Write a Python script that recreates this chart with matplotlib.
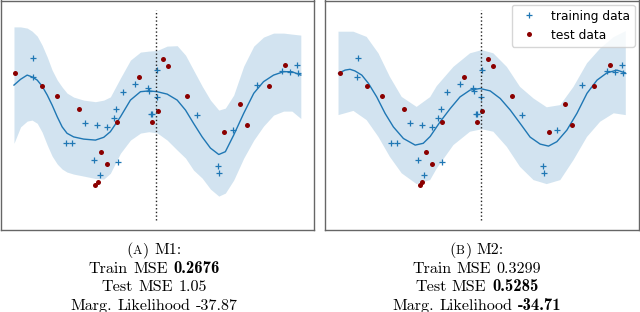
import numpy as np
import matplotlib
matplotlib.use("Agg")
import matplotlib.pyplot as plt

# ---------------- data ----------------
x_train = [0.67, 0.66, 2.49, 2.90, 3.25, 1.82, 2.03, 2.78, 2.99, 3.62, 3.48, 3.57,
           3.79, 4.23, 4.68, 4.72, 4.77, 4.82, 4.99, 4.97, 6.37, 7.62, 7.13, 7.14,
           8.46, 9.34, 9.61, 9.87, 9.89]
y_train = [1.54, 1.08, -0.08, -0.125, -0.18, -0.58, -0.58, -1.0, -1.37, -1.04, 0.05, 0.27,
           0.70, 0.89, 0.79, 0.725, 0.15, 0.15, 1.24, 0.58, 0.13, -0.25, -1.14, -1.33,
           0.875, 1.23, 1.19, 1.375, 1.17]

x_test = [0.05, 0.99, 1.51, 2.27, 3.05, 3.25, 2.92, 2.84, 3.60, 4.36, 5.20, 5.38,
          5.01, 4.82, 6.03, 7.33, 7.89, 8.14, 8.90, 9.44]
y_test = [1.17, 0.85, 0.61, 0.27, -0.80, -1.10, -1.54, -1.625, -0.05, 1.075, 1.525, 1.35,
          0.23, -0.06, 0.61, -0.29, 0.39, -0.13, 0.86, 1.38]

split_x = 4.96
split_y = [-2.5, 2.75]

# Model M1: posterior mean and +/- band
m1_x = [0.0, 0.23, 0.46, 0.63, 0.81, 0.98, 1.16, 1.33, 1.51, 1.68, 1.85, 2.08, 2.43,
        2.84, 3.13, 3.36, 3.71, 4.06, 4.41, 4.70, 4.99, 5.34, 5.69, 5.98, 6.26, 6.56,
        6.85, 7.14, 7.37, 7.66, 8.01, 8.36, 8.70, 9.05, 9.40, 9.69, 10.0]
m1_mean = [0.875, 1.02, 1.125, 1.08, 1.0, 0.85, 0.625, 0.375, 0.08, -0.17, -0.33, -0.42,
           -0.475, -0.5, -0.43, -0.29, 0.08, 0.5, 0.71, 0.73, 0.71, 0.65, 0.5, 0.25,
           -0.08, -0.42, -0.70, -0.86, -0.79, -0.375, 0.17, 0.67, 0.96, 1.125, 1.21,
           1.21, 1.125]
m1_upper = [2.33, 2.33, 2.3, 2.225, 2.1, 1.875, 1.575, 1.25, 1.0, 0.825, 0.675, 0.575,
            0.5, 0.46, 0.5, 0.58, 1.05, 1.5, 1.7, 1.725, 1.74, 1.85, 1.86, 1.625, 1.25,
            0.85, 0.5, 0.25, 0.3, 0.625, 1.35, 1.85, 2.075, 2.175, 2.175, 2.15, 2.125]
m1_lower = [-0.58, -0.17, -0.025, 0.0, -0.08, -0.3, -0.625, -0.9, -1.1, -1.225, -1.3,
            -1.35, -1.4, -1.46, -1.475, -1.33, -0.83, -0.5, -0.325, -0.29, -0.32, -0.5,
            -0.75, -0.95, -1.25, -1.45, -1.725, -1.9, -1.825, -1.5, -0.95, -0.5, -0.15,
            0.125, 0.225, 0.225, 0.04]

# Model M2: posterior mean and +/- band
m2_x = [0.0, 0.23, 0.40, 0.57, 0.81, 1.04, 1.33, 1.62, 1.91, 2.26, 2.67, 2.95, 3.19,
        3.54, 3.89, 4.23, 4.58, 4.93, 5.28, 5.63, 5.98, 6.32, 6.67, 7.02, 7.31, 7.60,
        7.95, 8.30, 8.65, 9.00, 9.34, 9.69, 9.98]
m2_mean = [1.17, 1.25, 1.27, 1.23, 1.125, 0.92, 0.58, 0.17, -0.17, -0.46, -0.625, -0.58,
           -0.41, -0.04, 0.29, 0.58, 0.75, 0.79, 0.73, 0.54, 0.25, -0.08, -0.425, -0.6,
           -0.65, -0.54, -0.25, 0.17, 0.67, 1.0, 1.18, 1.25, 1.18]
m2_band_x = [0.0, 0.52, 0.98, 1.39, 1.79, 2.20, 2.72, 3.19, 3.42, 4.0, 4.58, 4.99, 5.39,
             5.86, 6.32, 6.79, 7.25, 7.72, 8.18, 8.65, 9.11, 9.58, 10.0]
m2_upper = [2.21, 2.21, 2.08, 1.67, 1.08, 0.58, 0.33, 0.575, 0.85, 1.33, 1.67, 1.75, 1.67,
            1.33, 0.83, 0.54, 0.32, 0.375, 0.83, 1.42, 1.79, 2.075, 2.225]
m2_lower = [0.125, 0.23, 0.0, -0.42, -0.92, -1.33, -1.6, -1.5, -1.21, -0.625, -0.29, -0.23,
            -0.29, -0.67, -1.17, -1.5, -1.6, -1.5, -1.0, -0.42, -0.04, 0.17, 0.125]

captions = [
    [[("(", "r"), ("A", "sc"), (")", "r"), (" ", None), ("M1:", "r")],
     [("Train", "r"), (" ", None), ("MSE", "r"), (" ", None), ("0.2676", "b")],
     [("Test", "r"), (" ", None), ("MSE", "r"), (" ", None), ("1.05", "r")],
     [("Marg.", "r"), (" ", None), ("Likelihood", "r"), (" ", None), ("-37.87", "r")]],
    [[("(", "r"), ("B", "sc"), (")", "r"), (" ", None), ("M2:", "r")],
     [("Train", "r"), (" ", None), ("MSE", "r"), (" ", None), ("0.3299", "r")],
     [("Test", "r"), (" ", None), ("MSE", "r"), (" ", None), ("0.5285", "b")],
     [("Marg.", "r"), (" ", None), ("Likelihood", "r"), (" ", None), ("-34.71", "b")]],
]

# ---------------- figure ----------------
W, H = 640, 312
fig = plt.figure(figsize=(W / 100, H / 100), dpi=100)


def px_axes(x0, y0, x1, y1):
    return fig.add_axes([x0 / W, 1 - y1 / H, (x1 - x0) / W, (y1 - y0) / H])


ax1 = px_axes(0.5, 0.5, 314, 229.7)
ax2 = px_axes(325, 0.5, 639, 229.7)

blue = "#1f77b4"
red = "#8b0000"

ax1.fill_between(m1_x, m1_lower, m1_upper, color=blue, alpha=0.2, lw=0)
ax1.plot(m1_x, m1_mean, color=blue, lw=1.0)
ax2.fill(np.r_[m2_band_x, m2_band_x[::-1]], np.r_[m2_upper, m2_lower[::-1]],
         color=blue, alpha=0.2, lw=0)
ax2.plot(m2_x, m2_mean, color=blue, lw=1.0)

for ax in (ax1, ax2):
    ax.plot(x_train, y_train, "+", color=blue, ms=4.8, mew=0.9, label="training data")
    ax.plot(x_test, y_test, "o", color=red, ms=3.6, mew=0, label="test data")
    ax.vlines(split_x, split_y[0], split_y[1], colors="#222222", linestyles=":", lw=1.0)
    ax.set_xlim(-0.47, 10.46)
    ax.set_ylim(-2.74, 2.99)
    ax.set_xticks([])
    ax.set_yticks([])
    for s in ax.spines.values():
        s.set_color("#666666")
        s.set_linewidth(1.0)

ax2.legend(loc="upper right", fontsize=8.8, bbox_to_anchor=(1.0, 1.0),
           borderaxespad=0.35)

# ---------------- captions ----------------
fs = 11.6
fam = {"r": "cmr10", "b": "cmb10", "sc": "cmr10"}
size = {"r": fs, "b": fs * 1.03, "sc": fs * 0.78}
renderer = fig.canvas.get_renderer()
centers = [154, 476.7]
baselines = [254.0, 272.8, 291.0, 309.6]
space_px = 0.333 * fs * 100 / 72

for cap, xc in zip(captions, centers):
    for line, yb in zip(cap, baselines):
        objs = []
        widths = []
        for txt, st in line:
            if st is None:
                objs.append(None)
                widths.append(space_px)
                continue
            t = fig.text(0, 1 - yb / H, txt, family=fam[st], fontsize=size[st],
                         ha="left", va="baseline")
            objs.append(t)
            widths.append(t.get_window_extent(renderer).width)
        total = sum(widths)
        x = xc - total / 2
        for t, w in zip(objs, widths):
            if t is not None:
                t.set_x(x / W)
            x += w

fig.savefig("out.png", dpi=100)
